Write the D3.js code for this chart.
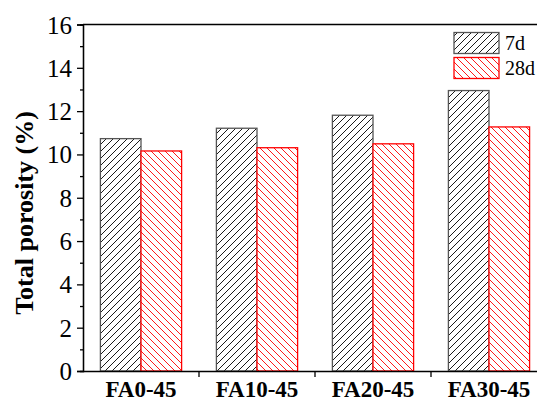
<!DOCTYPE html>
<html><head><meta charset="utf-8">
<script src="https://cdn.jsdelivr.net/npm/d3@7"></script>
<style>body{margin:0;background:#fff}svg{display:block}</style>
</head><body>
<script>
const categories = ["FA0-45","FA10-45","FA20-45","FA30-45"];
const series = ["7d","28d"];
const values7d = [10.73, 11.21, 11.81, 12.95];
const values28d = [10.16, 10.31, 10.49, 11.27];
const yTicks = [0,2,4,6,8,10,12,14,16];

const W=537,H=401;
const m={left:83,top:24.5,right:547,bottom:371};
const FONT="Liberation Serif, Times New Roman, serif";
const svg=d3.select("body").append("svg").attr("width",W).attr("height",H);
const defs=svg.append("defs");
function pat(id,color,dir){
  const p=defs.append("pattern").attr("id",id).attr("patternUnits","userSpaceOnUse")
    .attr("width",7).attr("height",7);
  if(dir>0){
    p.append("path").attr("d","M0,7 L7,0 M-1,1 L1,-1 M6,8 L8,6").attr("stroke",color).attr("stroke-width",0.9);
  } else {
    p.append("path").attr("d","M0,0 L7,7 M-1,6 L1,8 M6,-1 L8,1").attr("stroke",color).attr("stroke-width",0.9);
  }
}
pat("hb","#000",1); pat("hr","#ff0000",-1);

const x=d3.scaleBand().domain(categories).range([m.left,m.right]).paddingInner(0.3).paddingOuter(0.15);
const xs=d3.scaleBand().domain(series).range([0,x.bandwidth()]);
const y=d3.scaleLinear().domain([0,16]).range([m.bottom,m.top]);

const data=categories.map((c,i)=>({c,v:[values7d[i],values28d[i]]}));
const fills=["url(#hb)","url(#hr)"], strokes=["#555","#ff0000"];
const g=svg.append("g");
data.forEach(d=>{
  series.forEach((s,j)=>{
    g.append("rect").attr("x",x(d.c)+xs(s)).attr("y",y(d.v[j]))
     .attr("width",xs.bandwidth()).attr("height",y(0)-y(d.v[j]))
     .attr("fill","#fff").attr("stroke","none");
    g.append("rect").attr("x",x(d.c)+xs(s)).attr("y",y(d.v[j]))
     .attr("width",xs.bandwidth()).attr("height",y(0)-y(d.v[j]))
     .attr("fill",fills[j]).attr("stroke",strokes[j]).attr("stroke-width",1.3);
  });
});

// top border
svg.append("line").attr("x1",m.left).attr("x2",m.right).attr("y1",m.top).attr("y2",m.top).attr("stroke","#000").attr("stroke-width",1.3);

// y axis
const ya=svg.append("g").attr("transform",`translate(${m.left},0)`)
  .call(d3.axisLeft(y).tickValues(yTicks).tickSize(6).tickPadding(5));
ya.append("g").call(d3.axisLeft(y).tickValues(d3.range(1,16,2)).tickSize(3).tickFormat(""));
ya.selectAll("path.domain").attr("stroke","#000").attr("stroke-width",1.3);
ya.selectAll("line").attr("stroke","#000").attr("stroke-width",1.3);
ya.selectAll("text").attr("font-family",FONT).attr("font-size",25).attr("fill","#000").attr("dy","0.34em");

// x axis
const xa=svg.append("g").attr("transform",`translate(0,${m.bottom})`)
  .call(d3.axisBottom(x).tickSize(0).tickPadding(0));
xa.selectAll("path.domain").attr("stroke","#000").attr("stroke-width",1.3);
xa.selectAll("text").attr("font-family",FONT).attr("font-size",23).attr("font-weight","bold").attr("fill","#000").attr("y",26).attr("dy",0);
const step=x.step();
const bounds=categories.slice(1).map(c=>x(c)-step*x.paddingInner()/2);
svg.append("g").selectAll("line").data(bounds).join("line")
  .attr("x1",d=>d).attr("x2",d=>d).attr("y1",m.bottom).attr("y2",m.bottom+6).attr("stroke","#000").attr("stroke-width",1.3);

// y title
svg.append("text").attr("transform",`translate(33,213) rotate(-90)`)
  .attr("text-anchor","middle").attr("font-family",FONT).attr("font-size",26).attr("font-weight","bold").text("Total porosity (%)");

// legend
const lg=svg.append("g");
series.forEach((s,j)=>{
  const yy=32.5+j*25;
  lg.append("rect").attr("x",454).attr("y",yy).attr("width",45).attr("height",21).attr("fill","#fff");
  lg.append("rect").attr("x",454).attr("y",yy).attr("width",45).attr("height",21)
    .attr("fill",fills[j]).attr("stroke",strokes[j]).attr("stroke-width",1.3);
  lg.append("text").attr("x",505).attr("y",yy+17.5).attr("font-family",FONT).attr("font-size",20).text(s);
});
</script>
</body></html>
